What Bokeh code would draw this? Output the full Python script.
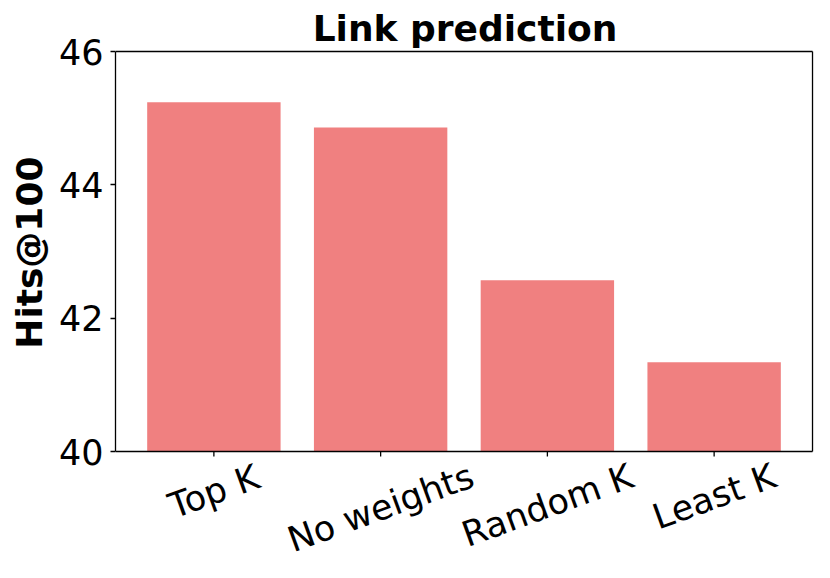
import math
from bokeh.plotting import figure
from bokeh.models import ColumnDataSource, Range1d, FixedTicker, Title
from bokeh.core.properties import value
from bokeh.embed import file_html
from bokeh.resources import INLINE

categories = ["Top K", "No weights", "Random K", "Least K"]
hits_at_100 = [45.24, 44.86, 42.57, 41.34]
y_ticks = [40, 42, 44, 46]
Y_MIN, Y_MAX = 40, 46
X0, X1 = -0.59, 3.59

# layout (pixels)
W, H = 814, 562
LEFT = 110           # left edge of the axes box
BOX_TOP = 51         # top edge of the axes box
BOX_H = 400          # height of the axes box
BOX_W = 702          # width of the axes box
M = 2                # margin so the box lines are not clipped
TICK_FS = 35
ROT = 20 * math.pi / 180
LW = 1.3

py = BOX_H / (Y_MAX - Y_MIN)      # px per y unit
px = BOX_W / (X1 - X0)            # px per x unit
y_lo = Y_MIN - (H - BOX_TOP - BOX_H) / py
y_hi = Y_MAX + M / py
x_hi = X1 + (W - LEFT - BOX_W) / px

xs = list(range(len(categories)))

p = figure(width=W, height=H, output_backend="svg", toolbar_location=None,
           x_range=Range1d(X0, x_hi), y_range=Range1d(y_lo, y_hi),
           min_border_left=LEFT, min_border_right=0, min_border_top=BOX_TOP - M,
           min_border_bottom=0, title="Link prediction", x_axis_location=None)

src = ColumnDataSource(dict(x=xs, top=hits_at_100, cat=categories))
p.vbar(x="x", top="top", bottom=Y_MIN, width=0.8, source=src,
       fill_color="#F08080", line_color=None)

# axes box (top, right, bottom); left side is the y axis line
p.segment(x0=[X0, X1, X0], y0=[Y_MAX, Y_MIN, Y_MIN], x1=[X1, X1, X1], y1=[Y_MAX, Y_MAX, Y_MIN],
          line_color="black", line_width=LW)
# x tick marks
p.segment(x0=xs, y0=[Y_MIN] * len(xs), x1=xs, y1=[Y_MIN - 5 / py] * len(xs),
          line_color="black", line_width=LW)

# rotated category labels centred under the ticks (matplotlib ha='center', va='top')
ADV = {"T": 1251, "o": 1253, "p": 1300, " ": 651, "K": 1343, "N": 1532, "w": 1675,
       "e": 1260, "i": 569, "g": 1300, "h": 1298, "t": 803, "s": 1067, "R": 1423,
       "a": 1255, "n": 1298, "d": 1300, "m": 1995, "L": 1141}

def text_w(s):
    return sum(ADV.get(c, 1200) for c in s) / 2048 * TICK_FS

line_h = 1.164 * TICK_FS
gap = 4
offs = [gap + text_w(c) / 2 * math.sin(ROT) + line_h / 2 * math.cos(ROT) for c in categories]
lab = ColumnDataSource(dict(x=xs, y=[Y_MIN] * len(xs), text=categories, off=offs))
p.text(x="x", y="y", text="text", y_offset="off", angle=ROT, source=lab,
       text_align="center", text_baseline="middle", text_font=value("DejaVu Sans"),
       text_font_size=f"{TICK_FS}px", text_color="black")

p.title.align = "center"
p.title.text_font = "DejaVu Sans"
p.title.text_font_size = "36px"
p.title.text_font_style = "bold"
p.title.text_color = "black"
p.title.standoff = 1

p.xgrid.visible = False
p.ygrid.visible = False
p.outline_line_color = None
p.background_fill_color = "white"
p.border_fill_color = "white"

p.yaxis.ticker = FixedTicker(ticks=y_ticks)
p.yaxis.bounds = (Y_MIN, Y_MAX)
p.yaxis.major_label_text_font = "DejaVu Sans"
p.yaxis.major_label_text_font_size = f"{TICK_FS}px"
p.yaxis.major_label_text_color = "black"
p.yaxis.minor_tick_line_color = None
p.yaxis.major_tick_out = 5
p.yaxis.major_tick_in = 0
p.yaxis.major_tick_line_color = "black"
p.yaxis.major_tick_line_width = LW
p.yaxis.axis_line_color = "black"
p.yaxis.axis_line_width = LW
p.yaxis.major_label_standoff = 7

# y axis title, centred on the 40..46 box (not the whole drawing area)
label_len = 190
y_title = Title(text="Hits@100", align="right", text_font="DejaVu Sans",
                text_font_size="36px", text_font_style="bold", text_color="black",
                offset=(BOX_H - label_len) / 2 + M, standoff=12)
p.add_layout(y_title, "left")

open("out.html", "w").write(file_html(p, INLINE))
